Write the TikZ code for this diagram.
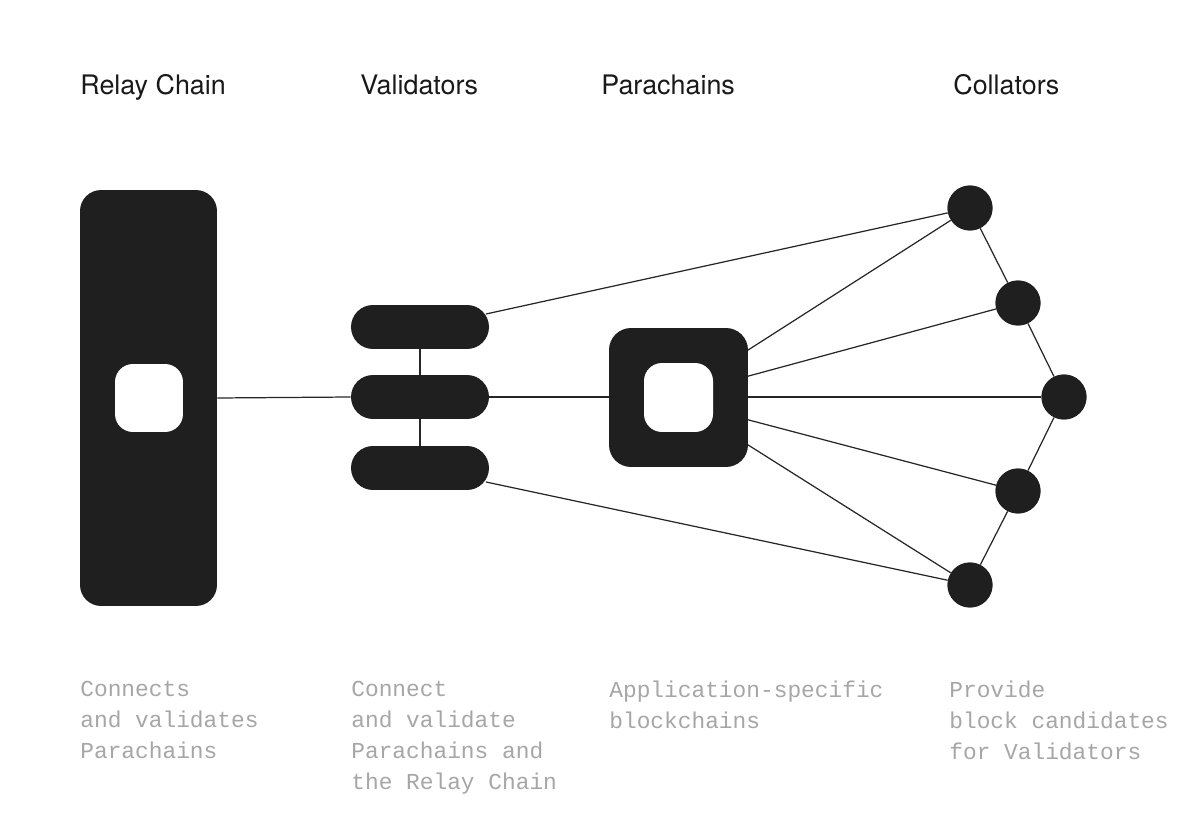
\documentclass[tikz,border=0pt]{standalone}
\usepackage{fontspec}
\setmainfont{TeX Gyre Heros}
\setmonofont{Liberation Mono}
\begin{document}
\begin{tikzpicture}[x=0.02cm,y=-0.02cm,
  title/.style={anchor=base west,font=\fontsize{15.3}{18}\selectfont,text=black!90,inner sep=0},
  desc/.style={anchor=north west,font=\ttfamily\fontsize{13}{17.6}\selectfont,text=black!35,align=left,inner sep=0},
  blk/.style={fill=black!88,draw=none},
  wht/.style={fill=white,draw=none},
  ln/.style={draw=black!85,line width=0.7pt},
  coll/.style={circle,fill=black!88,minimum size=0.9cm,inner sep=0}]
\useasboundingbox (0,0) rectangle (1200,834);
\node[title] (t1) at (80,95) {Relay Chain};
\node[title] (t2) at (360,95) {Validators};
\node[title] (t3) at (601,95) {Parachains};
\node[title] (t4) at (953,95) {Collators};
% relay
\node[blk,rounded corners=0.42cm,minimum width=2.74cm,minimum height=8.32cm] (relay) at (148.5,398) {};
\node[wht,rounded corners=0.36cm,minimum width=1.36cm,minimum height=1.36cm] at (149,398) {};
% validators
\draw[ln] (420,327) -- (420,468);
\foreach \n/\y in {va/327,vb/397,vc/468}
  \node[blk,rounded corners=0.44cm,minimum width=2.76cm,minimum height=0.88cm] (\n) at (420,\y) {};
% collators
\node[coll] (c1) at (970,208) {};
\node[coll] (c2) at (1018,303) {};
\node[coll] (c3) at (1064,397) {};
\node[coll] (c4) at (1018,491) {};
\node[coll] (c5) at (970,585) {};
\coordinate (va1) at (486,314);
\coordinate (vc1) at (486,482);
\coordinate (p1) at (745,352);
\coordinate (p2) at (745,377);
\coordinate (p4) at (745,419);
\coordinate (p5) at (745,443);
\draw[ln] (relay.east) -- (vb.west);
\draw[ln] (vb.east) -- (c3);
\draw[ln] (va1) -- (c1);
\draw[ln] (vc1) -- (c5);
\draw[ln] (p1) -- (c1);
\draw[ln] (p2) -- (c2);
\draw[ln] (p4) -- (c4);
\draw[ln] (p5) -- (c5);
\draw[ln] (c1) -- (c2) -- (c3) -- (c4) -- (c5);
% parachain
\node[blk,rounded corners=0.44cm,minimum width=2.78cm,minimum height=2.78cm] (para) at (678.5,397.5) {};
\node[wht,rounded corners=0.36cm,minimum width=1.38cm,minimum height=1.38cm] at (678.5,397.5) {};
\foreach \n in {c1,c2,c3,c4,c5} \node[coll] at (\n) {};
\node[desc] (d1) at (80,681) {Connects\\and validates\\Parachains};
\node[desc] (d2) at (351,681) {Connect\\and validate\\Parachains and\\the Relay Chain};
\node[desc] (d3) at (609,681) {Application-specific\\blockchains};
\node[desc] (d4) at (949,681) {Provide\\block candidates\\for Validators};
\end{tikzpicture}
\end{document}
